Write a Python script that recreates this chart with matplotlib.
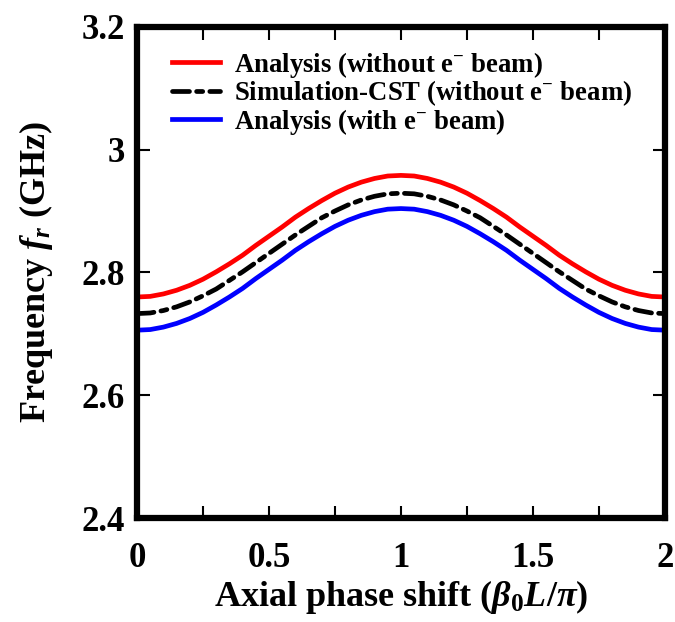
import matplotlib
matplotlib.use("Agg")
import matplotlib.pyplot as plt

# phase shift (beta0 L / pi) and resonant frequency (GHz)
phase = [0.00, 0.05, 0.10, 0.15, 0.20, 0.25, 0.30, 0.35, 0.40, 0.45, 0.50,
         0.55, 0.60, 0.65, 0.70, 0.75, 0.80, 0.85, 0.90, 0.95, 1.00,
         1.05, 1.10, 1.15, 1.20, 1.25, 1.30, 1.35, 1.40, 1.45, 1.50,
         1.55, 1.60, 1.65, 1.70, 1.75, 1.80, 1.85, 1.90, 1.95, 2.00]
freq_analysis_no_beam = [2.760, 2.761, 2.765, 2.771, 2.779, 2.789, 2.801, 2.814, 2.828, 2.844, 2.859,
                         2.874, 2.890, 2.904, 2.917, 2.929, 2.939, 2.947, 2.953, 2.957, 2.958,
                         2.957, 2.953, 2.947, 2.939, 2.929, 2.917, 2.904, 2.890, 2.874, 2.859,
                         2.844, 2.828, 2.814, 2.801, 2.789, 2.779, 2.771, 2.765, 2.761, 2.760]
freq_cst_no_beam = [2.733, 2.734, 2.738, 2.744, 2.752, 2.762, 2.773, 2.787, 2.801, 2.816, 2.831,
                    2.846, 2.861, 2.875, 2.889, 2.900, 2.910, 2.918, 2.924, 2.928, 2.929,
                    2.928, 2.924, 2.918, 2.910, 2.900, 2.889, 2.875, 2.861, 2.846, 2.831,
                    2.816, 2.801, 2.787, 2.773, 2.762, 2.752, 2.744, 2.738, 2.734, 2.733]
freq_analysis_beam = [2.706, 2.707, 2.711, 2.717, 2.725, 2.735, 2.747, 2.760, 2.774, 2.790, 2.805,
                      2.820, 2.836, 2.850, 2.863, 2.875, 2.885, 2.893, 2.899, 2.903, 2.904,
                      2.903, 2.899, 2.893, 2.885, 2.875, 2.863, 2.850, 2.836, 2.820, 2.805,
                      2.790, 2.774, 2.760, 2.747, 2.735, 2.725, 2.717, 2.711, 2.707, 2.706]

xticks = [0, 0.5, 1, 1.5, 2]
xtick_labels = ["0", "0.5", "1", "1.5", "2"]
yticks = [2.4, 2.6, 2.8, 3.0, 3.2]
ytick_labels = ["2.4", "2.6", "2.8", "3", "3.2"]

plt.rcParams['font.family'] = 'Liberation Serif'
plt.rcParams['font.weight'] = 'bold'
plt.rcParams['axes.labelweight'] = 'bold'
plt.rcParams['mathtext.fontset'] = 'custom'
plt.rcParams['mathtext.rm'] = 'Liberation Serif:bold'
plt.rcParams['mathtext.it'] = 'Liberation Serif:italic:bold'
plt.rcParams['mathtext.bf'] = 'Liberation Serif:bold'

fig = plt.figure(figsize=(6.75, 6.22), dpi=100)
ax = fig.add_axes([0.203, 0.167, 0.782, 0.790])

ax.plot(phase, freq_analysis_no_beam, color='#ff0000', lw=3.4,
        label=r"Analysis (without e$^{-}$ beam)")
ax.plot(phase, freq_cst_no_beam, color='black', lw=3.4,
        linestyle=(0, (3.6, 1.5, 1.3, 1.5)), dash_capstyle='round',
        label=r"Simulation-CST (without e$^{-}$ beam)")
ax.plot(phase, freq_analysis_beam, color='#0000ff', lw=3.4,
        label=r"Analysis (with e$^{-}$ beam)")

ax.set_xlim(0, 2)
ax.set_ylim(2.4, 3.2)
ax.set_xticks(xticks)
ax.set_xticklabels(xtick_labels)
ax.set_xticks([0.25, 0.75, 1.25, 1.75], minor=True)
ax.set_yticks(yticks)
ax.set_yticklabels(ytick_labels)

ax.tick_params(axis='both', which='both', direction='in', top=True, right=True,
               labelsize=25, width=1.5, length=9)
ax.tick_params(axis='x', which='major', pad=17)
ax.tick_params(axis='y', which='major', pad=9)
for sp in ax.spines.values():
    sp.set_linewidth(4.5)

ax.set_xlabel(r"Axial phase shift ($\beta_0L/\pi$)", fontsize=26, labelpad=2)
ax.set_ylabel(r"Frequency $f_r$ (GHz)", fontsize=26, labelpad=19)

ax.legend(loc='upper left', frameon=False, fontsize=19.3, handlelength=1.8,
          handletextpad=0.55, labelspacing=-0.05, borderaxespad=0.0,
          bbox_to_anchor=(0.045, 0.975))

fig.savefig("out.png", dpi=100)
